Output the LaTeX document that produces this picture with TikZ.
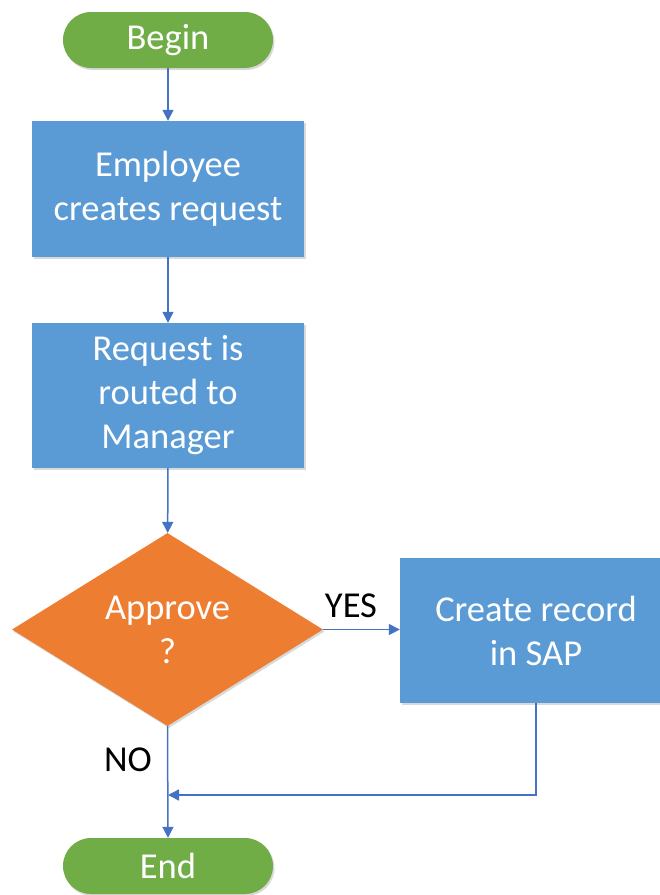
\documentclass[tikz,border=0pt]{standalone}
\usepackage{fontspec}
\setmainfont{Carlito}
\usetikzlibrary{shapes.geometric,arrows.meta,shadows}
\definecolor{pillgreen}{HTML}{70AD47}
\definecolor{boxblue}{HTML}{5B9BD5}
\definecolor{decorange}{HTML}{ED7D31}
\definecolor{linkblue}{HTML}{4472C4}
\begin{document}
\begin{tikzpicture}[x=1pt,y=-1pt,
  every node/.style={font=\fontsize{36.5}{44}\selectfont},
  shad/.style={drop shadow={opacity=0.3,shadow xshift=1.5pt,shadow yshift=-2pt}},
  pill/.style={shad,fill=pillgreen,text=white,rounded corners=28pt,minimum width=210pt,minimum height=56pt,inner sep=0pt},
  stepbox/.style={shad,fill=boxblue,text=white,minimum width=272pt,minimum height=136pt,inner sep=0pt,align=center},
  decision/.style={shad,diamond,fill=decorange,text=white,minimum width=311pt,minimum height=193pt,inner sep=0pt,align=center},
  link/.style={draw=linkblue,line width=1.5pt,-{Triangle[length=11pt,width=11pt]}},
  lbl/.style={text=black}]
\useasboundingbox (0,0) rectangle (660,895);
\node[pill] (begin) at (168,40) {Begin};
\node[stepbox,minimum height=136pt] (b1) at (168,189) {Employee\\creates request};
\node[stepbox,minimum height=145pt] (b2) at (168,395.5) {Request is\\routed to\\Manager};
\node[decision] (dec) at (167.5,629.5) {Approve\\?};
\node[stepbox,minimum height=145pt] (b3) at (536,630.5) {Create record\\in SAP};
\node[pill] (end) at (168,866) {End};
\coordinate (j) at (168,795);
\draw[link] (begin) -- (b1);
\draw[link] (b1) -- (b2);
\draw[link] (b2) -- (dec);
\draw[link] (dec.east) -- (b3.west |- dec.east);
\draw[link] (dec.south) -- (end.north);
\draw[link] (b3.south) |- (j);
\node[lbl] (yes) at (351,606) {YES};
\node[lbl] (no) at (128,760) {NO};
\end{tikzpicture}
\end{document}
